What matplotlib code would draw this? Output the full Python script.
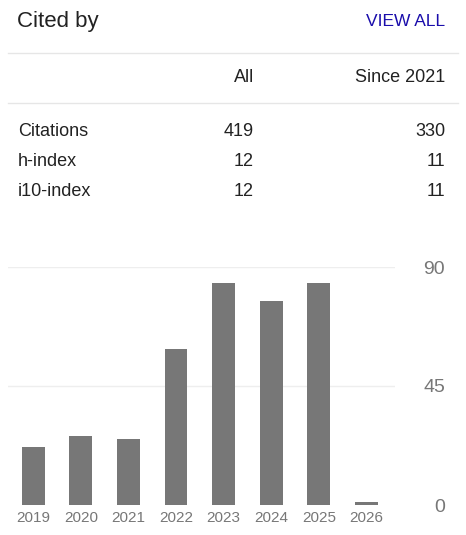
import matplotlib
matplotlib.use("Agg")
import matplotlib.pyplot as plt
from matplotlib.lines import Line2D

years = ["2019", "2020", "2021", "2022", "2023", "2024", "2025", "2026"]
counts = [22, 26, 25, 59, 84, 77, 84, 1]
row_names = ["Citations", "h-index", "i10-index"]
all_vals = ["419", "12", "12"]
since_vals = ["330", "11", "11"]
y_ticks = [0, 45, 90]

W, H = 466, 535
plt.rcParams["font.family"] = ["Liberation Sans", "DejaVu Sans"]
fig = plt.figure(figsize=(W / 100, H / 100), dpi=100)


def px(x, y):
    return x / W, 1 - y / H


def txt(x, y, s, **kw):
    fig.text(*px(x, y), s, va="center", **kw)


txt(17, 21, "Cited by", fontsize=16, color="#222222")
txt(445, 21, "VIEW ALL", fontsize=12.5, color="#1a0dab", ha="right")
for ly in (53, 103):
    fig.add_artist(Line2D([8 / W, 458 / W], [1 - ly / H] * 2, color="#e6e6e6", lw=1))
txt(254, 78, "All", fontsize=13, color="#222222", ha="right")
txt(445, 78, "Since 2021", fontsize=13, color="#222222", ha="right")
for i, name in enumerate(row_names):
    y = 131 + 30 * i
    txt(18, y, name, fontsize=13, color="#222222")
    txt(254, y, all_vals[i], fontsize=13, color="#222222", ha="right")
    txt(445, y, since_vals[i], fontsize=13, color="#222222", ha="right")

# bar chart area: x 8..395 px, y 267..505 px
ax = fig.add_axes([8 / W, 1 - 505 / H, (395 - 8) / W, (505 - 267) / H])
xs = list(range(len(years)))
ax.bar(xs, counts, width=0.48, color="#777777", zorder=2)
ax.set_xlim(-0.53, len(years) - 0.4)
ax.set_ylim(0, 90)
for t in y_ticks[1:]:
    ax.axhline(t, color="#eeeeee", lw=1, zorder=1)
for s in ax.spines.values():
    s.set_visible(False)
ax.set_yticks([])
ax.set_xticks(xs)
ax.set_xticklabels(years, fontsize=11, color="#777777")
ax.tick_params(axis="x", length=0, pad=4)
for t in y_ticks:
    txt(445, 505 - t * 238 / 90 + (3 if t == 0 else 2), str(t), fontsize=14, color="#777777", ha="right")

fig.savefig("out.png", dpi=100)
